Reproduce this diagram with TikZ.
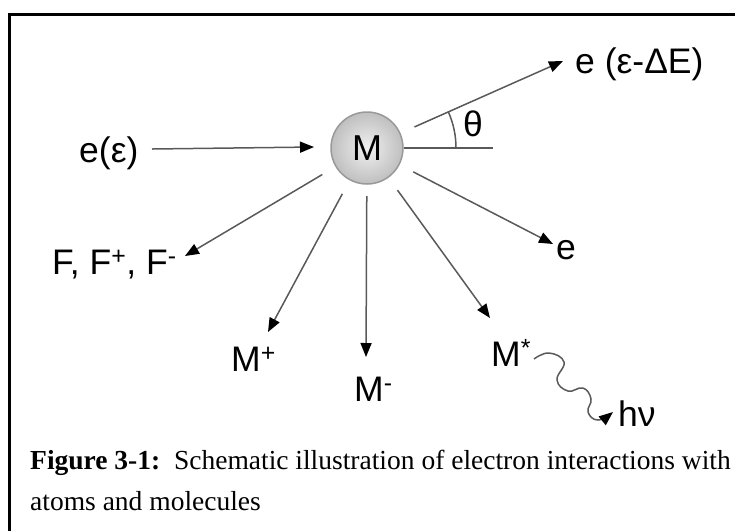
\documentclass[tikz,border=0pt]{standalone}
\usepackage{fontspec}
\setmainfont{Liberation Sans}
\newfontfamily\capfont{Liberation Serif}
\usetikzlibrary{arrows.meta}
\begin{document}
\begin{tikzpicture}[x=1pt,y=-1pt,
  lbl/.style={inner sep=0pt,font=\fontsize{35.5}{38}\selectfont},
  conn/.style={draw=black!65,line width=1.5pt,-{Triangle[length=14pt,width=11pt,color=black]},shorten <=52pt},
  plain/.style={draw=black!65,line width=1.5pt}]
\useasboundingbox (0,0) rectangle (735,531);
% frame
\draw[line width=3pt] (9.5,531) -- (9.5,14) -- (735,14);
% central atom
\node[circle,minimum size=72pt,inner sep=0pt,draw=black!40,line width=1.5pt,
  inner color=black!6,outer color=black!25,font=\fontsize{36}{38}\selectfont] (M) at (367,148) {M};
% labels
\node[lbl,anchor=base west] (ein) at (79,162) {e(ε)};
\node[lbl,anchor=base west] (escat) at (575,73) {e (ε-ΔE)};
\node[lbl,anchor=base west] (th) at (463,136) {θ};
\node[lbl,anchor=base west] (e2) at (556,259) {e};
\node[lbl,anchor=base west] (F) at (52,274) {F, F\textsuperscript{+}, F\textsuperscript{-}};
\node[lbl,anchor=base west] (Mp) at (231,371) {M\textsuperscript{+}};
\node[lbl,anchor=base west] (Mm) at (354,401) {M\textsuperscript{-}};
\node[lbl,anchor=base west] (Ms) at (491,366) {M\textsuperscript{*}};
\node[lbl,anchor=base west] (hv) at (618,426) {hν};
% arrow tips
\coordinate (tin1) at (152,149);
\coordinate (tin2) at (314,147);
\coordinate (tscat) at (563,61);
\coordinate (te2) at (553,244);
\coordinate (tF) at (185,256);
\coordinate (tMp) at (268,332);
\coordinate (tMm) at (366,357);
\coordinate (tMs) at (490,318);
\coordinate (href) at (493,148);
% connectors
\draw[conn,shorten <=0pt] (tin1) -- (tin2);
\draw[conn] (M.center) -- (tscat);
\draw[conn] (M.center) -- (te2);
\draw[conn] (M.center) -- (tF);
\draw[conn] (M.center) -- (tMp);
\draw[conn,shorten <=48pt] (M.center) -- (tMm);
\draw[conn] (M.center) -- (tMs);
\draw[plain] (M.east) -- (href);
% angle arc
\draw[plain] (M.center) ++(89,0) arc[start angle=0,end angle=-24,radius=89];
% photon
\draw[conn,shorten <=0pt] plot[smooth,tension=0.75] coordinates {(534,359) (549,353) (564,362) (557,380) (568,391) (583,388) (591,399) (588,412) (598,420) (613,412)};
% caption
\node[anchor=base west,inner sep=0pt,font=\capfont\fontsize{27.5}{41}\selectfont] (cap1) at (30,469) {\textbf{Figure 3-1:}\ \ Schematic illustration of electron interactions with};
\node[anchor=base west,inner sep=0pt,font=\capfont\fontsize{27.5}{41}\selectfont] (cap2) at (30,510) {atoms and molecules};
\end{tikzpicture}
\end{document}
